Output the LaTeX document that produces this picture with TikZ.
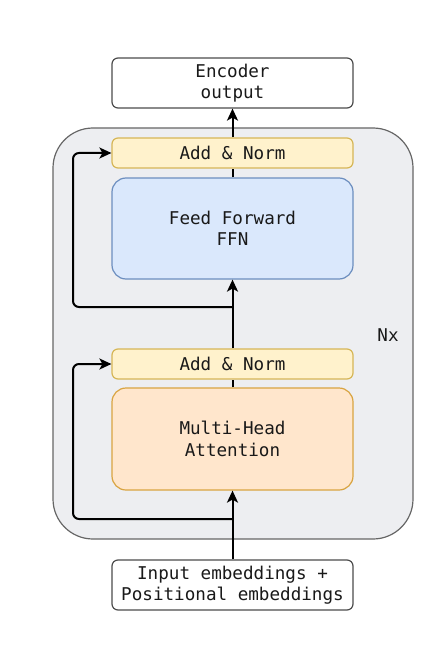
\documentclass[tikz,border=0pt]{standalone}
\usepackage{fontspec}
\setmonofont{DejaVu Sans Mono}
\usepackage{xcolor}
\usepackage{tikz}
\usetikzlibrary{arrows.meta}
\definecolor{layerfill}{HTML}{EDEEF1}
\definecolor{normfill}{HTML}{FFF2CC}
\definecolor{normline}{HTML}{D6B656}
\definecolor{ffnfill}{HTML}{DAE8FC}
\definecolor{ffnline}{HTML}{6C8EBF}
\definecolor{mhafill}{HTML}{FFE6CC}
\definecolor{mhaline}{HTML}{D9A441}

\begin{document}
\begin{tikzpicture}[x=1pt,y=-1pt,
    every node/.style={rectangle,rounded corners=6pt,draw,line width=1.2pt,align=center,inner sep=0pt,
      minimum width=241pt,font=\ttfamily\fontsize{17.6}{21.5}\selectfont,text=black!90},
    normbox/.style={fill=normfill,draw=normline,minimum height=30pt},
    ffnbox/.style={fill=ffnfill,draw=ffnline,minimum height=101pt,rounded corners=14pt},
    mhabox/.style={fill=mhafill,draw=mhaline,minimum height=102pt,rounded corners=14pt},
    iobox/.style={fill=white,draw=black!70,minimum height=50pt},
    arr/.style={line width=2pt,-{Stealth[length=12pt,width=11pt,inset=3pt]}}]
    \useasboundingbox (0,0) rectangle (439,655);
    %
    \fill[layerfill,draw=black!60,line width=1.2pt,rounded corners=40pt] (53,128) rectangle (413,539);
    %
    \node[iobox] (out) at (232.5,83) {Encoder\\output};
    \node[normbox] (an2) at (232.5,153) {Add \& Norm};
    \node[ffnbox] (ffn) at (232.5,228.5) {Feed Forward\\FFN};
    \node[normbox] (an1) at (232.5,364) {Add \& Norm};
    \node[mhabox] (mha) at (232.5,439) {Multi-Head\\Attention};
    \node[iobox] (inp) at (232.5,585) {Input embeddings +\\Positional embeddings};
    \node[draw=none,minimum width=0pt] (nx) at (388,335) {Nx};
    %
    \coordinate (r1) at (232.5,519);
    \coordinate (l1) at (73,519);
    \coordinate (r2) at (232.5,307);
    \coordinate (l2) at (73,307);
    %
    \draw[arr] (inp) edge (mha);
    \draw[line width=2pt] (mha) edge (an1);
    \draw[arr] (an1) edge (ffn);
    \draw[line width=2pt] (ffn) edge (an2);
    \draw[arr] (an2) edge (out);
    \draw[arr,rounded corners=6pt] (r1) -- (l1) |- (an1.west);
    \draw[arr,rounded corners=6pt] (r2) -- (l2) |- (an2.west);
    %
\end{tikzpicture}
\end{document}
